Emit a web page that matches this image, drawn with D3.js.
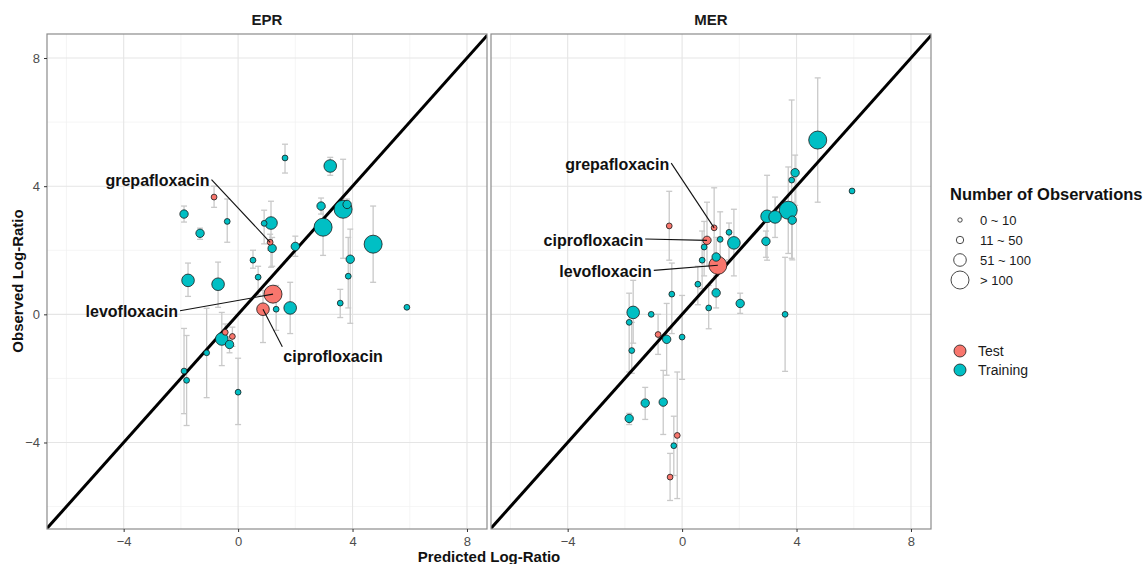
<!DOCTYPE html>
<html>
<head>
<meta charset="utf-8">
<script src="https://cdn.jsdelivr.net/npm/d3@7"></script>
<style>
  body { margin: 0; background: #fff; }
  svg { font-family: "Liberation Sans", Arial, sans-serif; }
</style>
</head>
<body>
<svg id="chart" width="1146" height="564"></svg>
<script>
// panel names
const panels = ["EPR", "MER"];

// [predicted, observed, errLow, errHigh, sizeClass, group]
const eprPoints = [
  [1.64, 4.88, 4.41, 5.31, 1, "Training"],
  [3.22, 4.63, 4.34, 4.90, 3, "Training"],
  [-0.84, 3.66, 3.34, 4.00, 1, "Test"],
  [-1.89, 3.13, 2.88, 3.38, 2, "Training"],
  [-0.38, 2.90, 2.25, 3.60, 1, "Training"],
  [-1.33, 2.53, 2.34, 2.69, 2, "Training"],
  [0.91, 2.84, 2.20, 3.25, 1, "Training"],
  [1.15, 2.85, 1.47, 3.53, 3, "Training"],
  [1.12, 2.25, 2.00, 2.50, 1, "Test"],
  [1.19, 2.06, 1.50, 2.40, 2, "Training"],
  [0.52, 1.69, 1.44, 2.00, 1, "Training"],
  [2.00, 2.12, 1.81, 2.44, 2, "Training"],
  [2.90, 3.38, 3.13, 3.63, 2, "Training"],
  [2.97, 2.72, 1.84, 3.34, 4, "Training"],
  [3.67, 3.28, 1.75, 4.84, 4, "Training"],
  [3.81, 3.43, 3.20, 3.60, 2, "Training"],
  [3.92, 1.72, -0.28, 2.66, 2, "Training"],
  [4.72, 2.19, 1.00, 3.38, 4, "Training"],
  [3.85, 1.19, 0.20, 2.40, 1, "Training"],
  [3.57, 0.35, -0.10, 0.78, 1, "Training"],
  [5.90, 0.22, 0.22, 0.22, 1, "Training"],
  [-1.75, 1.06, 0.56, 1.60, 3, "Training"],
  [-0.70, 0.94, 0.22, 1.63, 3, "Training"],
  [0.70, 1.16, 0.60, 1.50, 1, "Training"],
  [1.22, 0.63, 0.63, 0.63, 4, "Test"],
  [0.87, 0.16, -0.88, 0.75, 3, "Test"],
  [1.33, 0.16, -0.50, 0.90, 1, "Training"],
  [1.82, 0.20, -0.60, 1.00, 3, "Training"],
  [-0.45, -0.56, -0.90, -0.30, 1, "Test"],
  [-0.20, -0.69, -1.00, -0.40, 1, "Test"],
  [-0.57, -0.77, -1.60, 0.06, 3, "Training"],
  [-0.30, -0.94, -1.20, -0.70, 2, "Training"],
  [-1.10, -1.20, -2.60, 0.19, 1, "Training"],
  [-1.89, -1.77, -3.10, -0.44, 1, "Training"],
  [-1.80, -2.06, -3.47, -0.66, 1, "Training"],
  [0.00, -2.43, -3.44, -1.37, 1, "Training"]
];

const merPoints = [
  [4.74, 5.44, 3.50, 7.38, 4, "Training"],
  [5.94, 3.85, 3.85, 3.85, 1, "Training"],
  [3.95, 4.42, 3.40, 4.97, 2, "Training"],
  [3.83, 4.19, 1.75, 6.69, 1, "Training"],
  [2.97, 3.06, 1.69, 4.34, 3, "Training"],
  [3.25, 3.04, 2.40, 3.66, 3, "Training"],
  [3.71, 3.25, 1.90, 4.60, 4, "Training"],
  [3.85, 2.94, 1.70, 3.50, 2, "Training"],
  [2.93, 2.28, 1.78, 2.60, 2, "Training"],
  [-0.45, 2.76, 1.69, 3.84, 1, "Test"],
  [1.12, 2.70, 1.50, 3.95, 1, "Test"],
  [0.87, 2.31, 1.50, 3.50, 2, "Test"],
  [0.77, 2.10, 1.20, 2.90, 1, "Training"],
  [1.33, 2.34, 1.30, 3.20, 1, "Training"],
  [1.64, 2.56, 1.70, 2.85, 1, "Training"],
  [1.81, 2.23, 1.20, 3.28, 3, "Training"],
  [0.70, 1.69, 0.80, 2.60, 1, "Training"],
  [1.19, 1.79, 0.80, 2.40, 2, "Training"],
  [1.25, 1.53, 1.53, 1.53, 4, "Test"],
  [0.55, 0.94, 0.30, 1.50, 1, "Training"],
  [1.19, 0.67, 0.20, 1.20, 2, "Training"],
  [-0.36, 0.63, -0.60, 1.60, 1, "Training"],
  [2.03, 0.34, 0.03, 0.66, 2, "Training"],
  [0.93, 0.20, -0.45, 0.90, 1, "Training"],
  [-1.71, 0.06, -0.90, 1.06, 3, "Training"],
  [-1.08, 0.00, 0.00, 0.00, 1, "Training"],
  [-1.85, -0.25, -1.80, 0.66, 1, "Training"],
  [-0.84, -0.63, -1.25, 0.00, 1, "Test"],
  [-0.54, -0.78, -1.90, 0.34, 2, "Training"],
  [0.00, -0.71, -2.03, 0.59, 1, "Training"],
  [-1.76, -1.13, -1.84, -0.25, 1, "Training"],
  [3.60, 0.00, -1.78, 1.78, 1, "Training"],
  [-1.29, -2.77, -3.28, -2.28, 2, "Training"],
  [-0.66, -2.74, -3.75, -1.75, 2, "Training"],
  [-1.85, -3.25, -3.44, -3.09, 2, "Training"],
  [-0.17, -3.78, -5.75, -1.80, 1, "Test"],
  [-0.29, -4.10, -5.03, -3.18, 1, "Training"],
  [-0.42, -5.08, -5.81, -4.34, 1, "Test"]
];

// labelled drugs: [name, predicted, observed, text x (data), text y (data), anchor]
const eprLabels = [
  ["grepafloxacin", 1.12, 2.25, -1.0, 4.17, "end"],
  ["levofloxacin", 1.22, 0.63, -2.1, 0.08, "end"],
  ["ciprofloxacin", 0.87, 0.16, 1.58, -1.32, "start"]
];
const merLabels = [
  ["grepafloxacin", 1.12, 2.70, -0.45, 4.69, "end"],
  ["ciprofloxacin", 0.87, 2.31, -1.36, 2.32, "end"],
  ["levofloxacin", 1.25, 1.53, -1.06, 1.34, "end"]
];

const sizeLabels = ["0 ~ 10", "11 ~ 50", "51 ~ 100", "> 100"];
const groups = ["Test", "Training"];
const ticks = [-4, 0, 4, 8];
const minorTicks = [-6, -2, 2, 6];

const colors = d3.scaleOrdinal().domain(groups).range(["#F8766D", "#00BFC4"]);
const radius = d3.scaleOrdinal().domain([1, 2, 3, 4]).range([2.9, 4.2, 6.3, 9]);

const svg = d3.select("#chart");
const plotTop = 34, plotBottom = 529, panelW = 440;
const panelX = [47, 491];
const y = d3.scaleLinear().domain([-6.7, 8.75]).range([plotBottom, plotTop]);

const datasets = [eprPoints, merPoints];
const labelsets = [eprLabels, merLabels];

panels.forEach((name, pi) => {
  const x0 = panelX[pi];
  const x = d3.scaleLinear().domain([-6.68, 8.7]).range([x0, x0 + panelW]);
  const g = svg.append("g");

  // clip
  const clipId = "clip" + pi;
  svg.append("clipPath").attr("id", clipId)
    .append("rect").attr("x", x0).attr("y", plotTop).attr("width", panelW).attr("height", plotBottom - plotTop);

  // minor grid
  g.selectAll(".minx").data(minorTicks).enter().append("line")
    .attr("x1", d => x(d)).attr("x2", d => x(d)).attr("y1", plotTop).attr("y2", plotBottom)
    .attr("stroke", "#f0f0f0").attr("stroke-width", 0.7);
  g.selectAll(".miny").data(minorTicks).enter().append("line")
    .attr("y1", d => y(d)).attr("y2", d => y(d)).attr("x1", x0).attr("x2", x0 + panelW)
    .attr("stroke", "#f0f0f0").attr("stroke-width", 0.7);
  // major grid
  g.selectAll(".majx").data(ticks).enter().append("line")
    .attr("x1", d => x(d)).attr("x2", d => x(d)).attr("y1", plotTop).attr("y2", plotBottom)
    .attr("stroke", "#e5e5e5").attr("stroke-width", 1.1);
  g.selectAll(".majy").data(ticks).enter().append("line")
    .attr("y1", d => y(d)).attr("y2", d => y(d)).attr("x1", x0).attr("x2", x0 + panelW)
    .attr("stroke", "#e5e5e5").attr("stroke-width", 1.1);

  const pts = datasets[pi];

  // error bars
  const eb = g.selectAll(".eb").data(pts.filter(d => d[3] - d[2] > 0.01)).enter().append("g")
    .attr("stroke", "#c9c9c9").attr("stroke-width", 1.3);
  eb.append("line").attr("x1", d => x(d[0])).attr("x2", d => x(d[0]))
    .attr("y1", d => y(d[2])).attr("y2", d => y(d[3]));
  eb.append("line").attr("x1", d => x(d[0]) - 3).attr("x2", d => x(d[0]) + 3)
    .attr("y1", d => y(d[2])).attr("y2", d => y(d[2]));
  eb.append("line").attr("x1", d => x(d[0]) - 3).attr("x2", d => x(d[0]) + 3)
    .attr("y1", d => y(d[3])).attr("y2", d => y(d[3]));

  // identity line
  g.append("line").attr("clip-path", `url(#${clipId})`)
    .attr("x1", x(-6.7)).attr("y1", y(-6.7)).attr("x2", x(8.8)).attr("y2", y(8.8))
    .attr("stroke", "#000").attr("stroke-width", 3);

  // points, bigger ones first
  g.selectAll(".pt").data(pts.slice().sort((a, b) => b[4] - a[4])).enter().append("circle")
    .attr("cx", d => x(d[0])).attr("cy", d => y(d[1])).attr("r", d => radius(d[4]))
    .attr("fill", d => colors(d[5])).attr("stroke", "#1a1a1a").attr("stroke-width", 0.8);

  // labels with leader lines
  labelsets[pi].forEach(l => {
    const tx = x(l[3]), ty = y(l[4]);
    g.append("line")
      .attr("x1", l[5] === "end" ? tx + 2 : tx - 1).attr("y1", l[5] === "end" ? ty - 1 : ty - 10)
      .attr("x2", x(l[1])).attr("y2", y(l[2]))
      .attr("stroke", "#111").attr("stroke-width", 1.1);
    g.append("text").attr("x", tx).attr("y", ty + 5.5)
      .attr("text-anchor", l[5]).attr("font-size", 16).attr("font-weight", "bold")
      .attr("fill", "#111").text(l[0]);
  });

  // border
  g.append("rect").attr("x", x0).attr("y", plotTop).attr("width", panelW).attr("height", plotBottom - plotTop)
    .attr("fill", "none").attr("stroke", "#8c8c8c").attr("stroke-width", 1.2);

  // strip title
  svg.append("text").attr("x", x0 + panelW / 2).attr("y", 25).attr("text-anchor", "middle")
    .attr("font-size", 15).attr("font-weight", "bold").attr("fill", "#1a1a1a").text(name);

  // x axis
  const xa = svg.append("g").attr("transform", `translate(0,${plotBottom})`)
    .call(d3.axisBottom(x).tickValues(ticks).tickSize(3).tickPadding(5));
  xa.select(".domain").remove();
  xa.selectAll("line").attr("stroke", "#333");
  xa.selectAll("text").attr("font-size", 13).attr("fill", "#4d4d4d")
    .attr("font-family", "Liberation Sans, Arial, sans-serif");

  if (pi === 0) {
    const ya = svg.append("g").attr("transform", `translate(${x0},0)`)
      .call(d3.axisLeft(y).tickValues(ticks).tickSize(3).tickPadding(4));
    ya.select(".domain").remove();
    ya.selectAll("line").attr("stroke", "#333");
    ya.selectAll("text").attr("font-size", 13).attr("fill", "#4d4d4d")
      .attr("font-family", "Liberation Sans, Arial, sans-serif");
  }
});

// axis titles
svg.append("text").attr("x", 489).attr("y", 562).attr("text-anchor", "middle")
  .attr("font-size", 15).attr("font-weight", "bold").attr("fill", "#111").text("Predicted Log-Ratio");
svg.append("text").attr("transform", "translate(23,281) rotate(-90)").attr("text-anchor", "middle")
  .attr("font-size", 15).attr("font-weight", "bold").attr("fill", "#111").text("Observed Log-Ratio");

// legend: sizes
const leg = svg.append("g");
leg.append("text").attr("x", 950).attr("y", 200).attr("font-size", 16.5).attr("font-weight", "bold")
  .attr("fill", "#111").text("Number of Observations");
const sizeY = [220, 240, 260, 280];
sizeLabels.forEach((s, i) => {
  leg.append("circle").attr("cx", 960).attr("cy", sizeY[i]).attr("r", [2.2, 3.7, 6.3, 9][i])
    .attr("fill", "none").attr("stroke", "#333").attr("stroke-width", 0.9);
  leg.append("text").attr("x", 980).attr("y", sizeY[i] + 4.5).attr("font-size", 13)
    .attr("fill", "#1a1a1a").text(s);
});
// legend: groups
groups.forEach((gname, i) => {
  const cy = 351 + i * 19;
  leg.append("circle").attr("cx", 960).attr("cy", cy).attr("r", 6)
    .attr("fill", colors(gname)).attr("stroke", "#1a1a1a").attr("stroke-width", 0.8);
  leg.append("text").attr("x", 978).attr("y", cy + 5).attr("font-size", 14)
    .attr("fill", "#1a1a1a").text(gname);
});
</script>
</body>
</html>
